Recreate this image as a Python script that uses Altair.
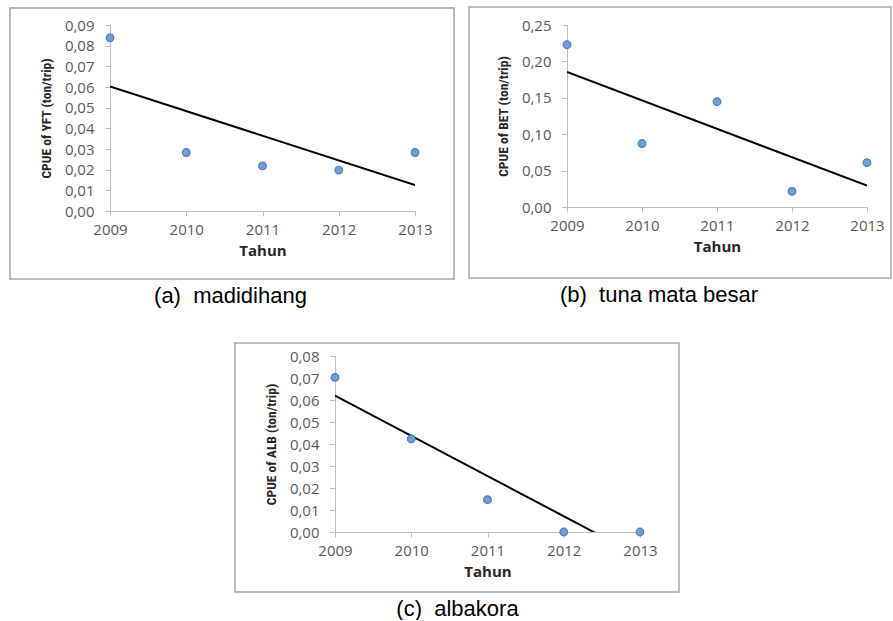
import altair as alt
import pandas as pd

# CPUE (ton/trip) per year for three tuna species
years = [2009, 2010, 2011, 2012, 2013]
cpue_yft = [0.0838, 0.0283, 0.0218, 0.0198, 0.0283]   # madidihang (yellowfin)
cpue_bet = [0.2230, 0.0872, 0.1447, 0.0215, 0.0608]   # tuna mata besar (bigeye)
cpue_alb = [0.0703, 0.0423, 0.0147, 0.0000, 0.0000]   # albakora (albacore)

yft_ticks = [0.00, 0.01, 0.02, 0.03, 0.04, 0.05, 0.06, 0.07, 0.08, 0.09]
bet_ticks = [0.00, 0.05, 0.10, 0.15, 0.20, 0.25]
alb_ticks = [0.00, 0.01, 0.02, 0.03, 0.04, 0.05, 0.06, 0.07, 0.08]

TICK_FONT = "Open Sans"
TITLE_FONT = "Liberation Sans Narrow, Roboto Condensed, Arial Narrow, Liberation Sans"
CAPTION_FONT = "Liberation Sans, Arial, sans-serif"

one = pd.DataFrame({"b": [0]})


def panel(values, ticks, y_title, caption, width, height, frame, dx=0):
    df = pd.DataFrame({"Tahun": years, "CPUE": values})
    x = alt.X(
        "Tahun:Q",
        scale=alt.Scale(domain=[years[0], years[-1]], nice=False, zero=False),
        axis=alt.Axis(values=years, format="d", title="Tahun", labelPadding=6,
                      titlePadding=6, titleFont=TICK_FONT, titleFontSize=15,
                      titleFontWeight="bold", titleColor="#262626"),
    )
    y = alt.Y(
        "CPUE:Q",
        scale=alt.Scale(domain=[0, ticks[-1]], nice=False),
        axis=alt.Axis(values=ticks, title=y_title, labelPadding=11,
                      labelExpr="replace(format(datum.value, '.2f'), '.', ',')",
                      titlePadding=11, titleFont=TITLE_FONT, titleFontSize=13.5,
                      titleFontWeight="bold", titleColor="#262626"),
    )
    base = alt.Chart(df)

    # chart-area border drawn around plot, axes and axis titles
    border = alt.Chart(one).mark_rect(
        fill="white", fillOpacity=0, stroke="#a6a6a6", strokeWidth=1.5
    ).encode(
        x=alt.value(frame[0]), x2=alt.value(frame[1]),
        y=alt.value(frame[2]), y2=alt.value(frame[3]),
    )

    trend = base.transform_regression(
        "Tahun", "CPUE", extent=[years[0], years[-1]]
    ).mark_line(color="black", strokeWidth=2, clip=True).encode(x=x, y=y)

    points = base.mark_circle(
        size=58, color="#6d9eda", stroke="#4a7ebb", strokeWidth=1.2, opacity=1
    ).encode(x=x, y=y)

    return alt.layer(border, trend, points).properties(
        width=width,
        height=height,
        title=alt.TitleParams(
            caption, orient="bottom", anchor="middle", font=CAPTION_FONT,
            fontSize=22, fontWeight="normal", color="black", offset=6, dx=dx,
        ),
    )


def blank(width):
    # empty white block used as a left indent for the bottom panel
    return alt.Chart(one).mark_rect(fill="white", strokeWidth=0).encode(
        x=alt.value(0), x2=alt.value(width), y=alt.value(0), y2=alt.value(1)
    ).properties(width=width, height=1)


nb = "\u00a0"
chart_a = panel(cpue_yft, yft_ticks, "CPUE of YFT (ton/trip)",
                f"(a){nb}{nb}madidihang", 305, 186, (-100, 344, -17, 254), dx=-32)
chart_b = panel(cpue_bet, bet_ticks, "CPUE of BET (ton/trip)",
                f"(b){nb}{nb}tuna mata besar", 300, 182, (-98, 324, -18, 253), dx=-58)
chart_c = panel(cpue_alb, alb_ticks, "CPUE of ALB (ton/trip)",
                f"(c){nb}{nb}albakora", 305, 176, (-100, 344, -13, 236), dx=-30)

chart = alt.vconcat(
    alt.hconcat(chart_a, chart_b, spacing=13),
    alt.hconcat(blank(124), chart_c, spacing=0),
    spacing=35,
).properties(
    padding={"left": 9, "top": 6, "right": 0, "bottom": 0},
    background="white",
).configure_view(
    strokeWidth=0
).configure_axis(
    domainColor="#bfbfbf",
    tickColor="#bfbfbf",
    domainWidth=1,
    tickWidth=1,
    tickSize=5,
    grid=False,
    labelFont=TICK_FONT,
    labelFontSize=15,
    labelColor="#595959",
    labelOverlap=False,
    labelFlush=False,
)

chart.save("out.html", embed_options={"renderer": "svg", "actions": False})
